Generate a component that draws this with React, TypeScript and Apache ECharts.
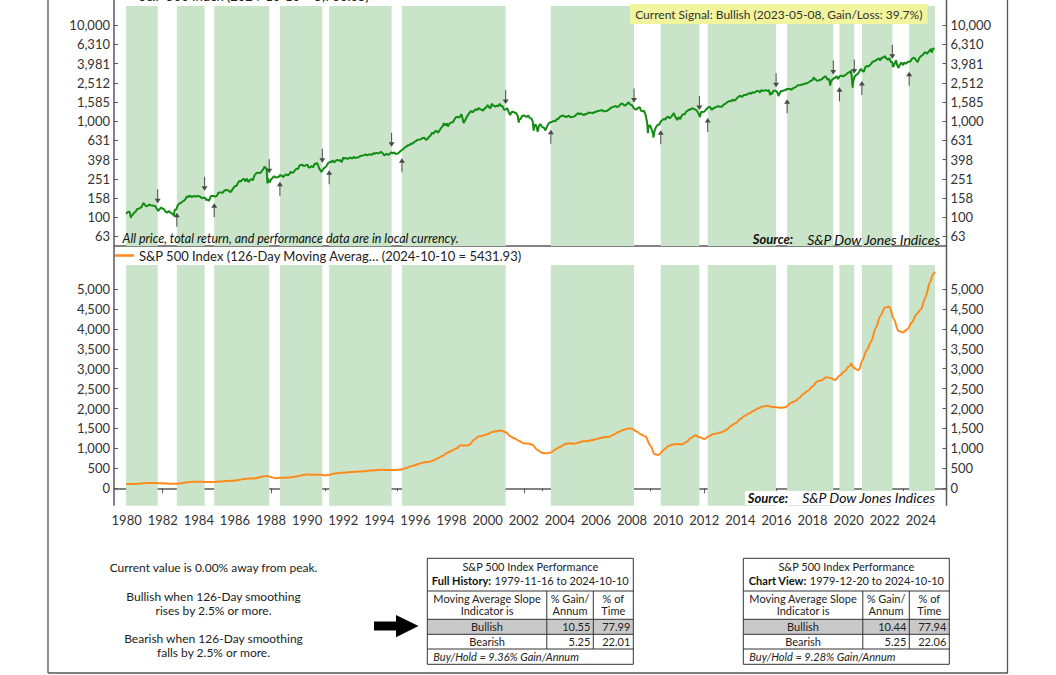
import React, { useEffect, useRef } from "react";
import * as echarts from "echarts";

// ---------------- DATA ----------------
const priceName = "S&P 500 Index (2024-10-10 = 5,780.05)";
const maName = "S&P 500 Index (126-Day Moving Averag\u2026 (2024-10-10 = 5431.93)";

// S&P 500 month-end closes, one row per year
const spx1980s = [
  114.16, 113.66, 102.09, 106.29, 111.24, 114.24, 121.67, 122.38, 125.46, 127.47, 140.52, 135.76,
  129.55, 131.27, 136.0, 132.81, 132.59, 131.21, 130.92, 122.79, 116.18, 121.89, 126.35, 122.55,
  120.4, 113.11, 111.96, 116.44, 111.88, 109.61, 107.09, 119.51, 120.42, 133.71, 138.54, 140.64,
  145.3, 148.06, 152.96, 164.42, 162.39, 168.11, 162.56, 164.4, 166.07, 163.55, 166.4, 164.93,
  163.41, 157.06, 159.18, 160.05, 150.55, 153.18, 150.66, 166.68, 166.1, 166.09, 163.58, 167.24,
  179.63, 181.18, 180.66, 179.83, 189.55, 191.85, 190.92, 188.63, 182.08, 189.82, 202.17, 211.28,
  211.78, 226.92, 238.9, 235.52, 247.35, 250.84, 236.12, 252.93, 231.32, 243.98, 249.22, 242.17,
  274.08, 284.2, 291.7, 288.36, 290.1, 304.0, 318.66, 329.8, 321.83, 251.79, 230.3, 247.08,
  257.07, 267.82, 258.89, 261.33, 262.16, 273.5, 272.02, 261.52, 271.91, 278.97, 273.7, 277.72,
  297.47, 288.86, 294.87, 309.64, 320.52, 317.98, 346.08, 351.45, 349.15, 340.36, 345.99, 353.4,
];
const spx1990s = [
  329.08, 331.89, 339.94, 330.8, 361.23, 358.02, 356.15, 322.56, 306.05, 304.0, 322.22, 330.22,
  343.93, 367.07, 375.22, 375.34, 389.83, 371.16, 387.81, 395.43, 387.86, 392.46, 375.22, 417.09,
  408.79, 412.7, 403.69, 414.95, 415.35, 408.14, 424.21, 414.03, 417.8, 418.68, 431.35, 435.71,
  438.78, 443.38, 451.67, 440.19, 450.19, 450.53, 448.13, 463.56, 458.93, 467.83, 461.79, 466.45,
  481.61, 467.14, 445.77, 450.91, 456.5, 444.27, 458.26, 475.49, 462.69, 472.35, 453.69, 459.27,
  470.42, 487.39, 500.71, 514.71, 533.4, 544.75, 562.06, 561.88, 584.41, 581.5, 605.37, 615.93,
  636.02, 640.43, 645.5, 654.17, 669.12, 670.63, 639.95, 651.99, 687.31, 705.27, 757.02, 740.74,
  786.16, 790.82, 757.12, 801.34, 848.28, 885.14, 954.29, 899.47, 947.28, 914.62, 955.4, 970.43,
  980.28, 1049.34, 1101.75, 1111.75, 1090.82, 1133.84, 1120.67, 957.28, 1017.01, 1098.67, 1163.63, 1229.23,
  1279.64, 1238.33, 1286.37, 1335.18, 1301.84, 1372.71, 1328.72, 1320.41, 1282.71, 1362.93, 1388.91, 1469.25,
];
const spx2000s = [
  1394.46, 1366.42, 1498.58, 1452.43, 1420.6, 1454.6, 1430.83, 1517.68, 1436.51, 1429.4, 1315.23, 1320.28,
  1366.01, 1239.94, 1160.33, 1249.46, 1255.82, 1224.42, 1211.23, 1133.58, 1040.94, 1059.78, 1139.45, 1148.08,
  1130.2, 1106.73, 1147.39, 1076.92, 1067.14, 989.82, 911.62, 916.07, 815.28, 885.76, 936.31, 879.82,
  855.7, 841.15, 848.18, 916.92, 963.59, 974.5, 990.31, 1008.01, 995.97, 1050.71, 1058.2, 1111.92,
  1131.13, 1144.94, 1126.21, 1107.3, 1120.68, 1140.84, 1101.72, 1104.24, 1114.58, 1130.2, 1173.82, 1211.92,
  1181.27, 1203.6, 1180.59, 1156.85, 1191.5, 1191.33, 1234.18, 1220.33, 1228.81, 1207.01, 1249.48, 1248.29,
  1280.08, 1280.66, 1294.83, 1310.61, 1270.09, 1270.2, 1276.66, 1303.82, 1335.85, 1377.94, 1400.63, 1418.3,
  1438.24, 1406.82, 1420.86, 1482.37, 1530.62, 1503.35, 1455.27, 1473.99, 1526.75, 1549.38, 1481.14, 1468.36,
  1378.55, 1330.63, 1322.7, 1385.59, 1400.38, 1280.0, 1267.38, 1282.83, 1166.36, 968.75, 896.24, 903.25,
  825.88, 735.09, 797.87, 872.81, 919.14, 919.32, 987.48, 1020.62, 1057.08, 1036.19, 1095.63, 1115.1,
];
const spx2010s = [
  1073.87, 1104.49, 1169.43, 1186.69, 1089.41, 1030.71, 1101.6, 1049.33, 1141.2, 1183.26, 1180.55, 1257.64,
  1286.12, 1327.22, 1325.83, 1363.61, 1345.2, 1320.64, 1292.28, 1218.89, 1131.42, 1253.3, 1246.96, 1257.6,
  1312.41, 1365.68, 1408.47, 1397.91, 1310.33, 1362.16, 1379.32, 1406.58, 1440.67, 1412.16, 1416.18, 1426.19,
  1498.11, 1514.68, 1569.19, 1597.57, 1630.74, 1606.28, 1685.73, 1632.97, 1681.55, 1756.54, 1805.81, 1848.36,
  1782.59, 1859.45, 1872.34, 1883.95, 1923.57, 1960.23, 1930.67, 2003.37, 1972.29, 2018.05, 2067.56, 2058.9,
  1994.99, 2104.5, 2067.89, 2085.51, 2107.39, 2063.11, 2103.84, 1972.18, 1920.03, 2079.36, 2080.41, 2043.94,
  1940.24, 1932.23, 2059.74, 2065.3, 2096.95, 2098.86, 2173.6, 2170.95, 2168.27, 2126.15, 2198.81, 2238.83,
  2278.87, 2363.64, 2362.72, 2384.2, 2411.8, 2423.41, 2470.3, 2471.65, 2519.36, 2575.26, 2647.58, 2673.61,
  2823.81, 2713.83, 2640.87, 2648.05, 2705.27, 2718.37, 2816.29, 2901.52, 2913.98, 2711.74, 2760.17, 2506.85,
  2704.1, 2784.49, 2834.4, 2945.83, 2752.06, 2941.76, 2980.38, 2926.46, 2976.74, 3037.56, 3140.98, 3230.78,
];
const spx2020s = [
  3225.52, 2954.22, 2584.59, 2912.43, 3044.31, 3100.29, 3271.12, 3500.31, 3363.0, 3269.96, 3621.63, 3756.07,
  3714.24, 3811.15, 3972.89, 4181.17, 4204.11, 4297.5, 4395.26, 4522.68, 4307.54, 4605.38, 4567.0, 4766.18,
  4515.55, 4373.94, 4530.41, 4131.93, 4132.15, 3785.38, 4130.29, 3955.0, 3585.62, 3871.98, 4080.11, 3839.5,
  4076.6, 3970.15, 4109.31, 4169.48, 4179.83, 4450.38, 4588.96, 4507.66, 4288.05, 4193.8, 4567.8, 4769.83,
  4845.65, 5096.27, 5254.35, 5035.69, 5277.51, 5460.48, 5522.3, 5648.4, 5762.48,
];
// first and last points of the view, [decimal year, close]
const priceFirst: [number, number] = [1979.97, 108.3];
const priceLast: [number, number] = [2024.78, 5780.05];
// intra-month highs and lows, [decimal year, close]
const priceExtremes: [number, number][] = [
  [1980.24, 98.2], [1982.61, 102.4], [1984.55, 147.8], [1987.64, 336.8], [1987.8, 224.8],
  [1990.54, 368.9], [1990.78, 295.5], [1994.3, 438.9], [1997.82, 877.0], [1998.54, 1186.8],
  [2000.23, 1527.5], [2001.72, 965.8], [2002.55, 797.7], [2002.77, 776.8], [2003.19, 800.7],
  [2007.77, 1565.2], [2008.88, 752.4], [2009.18, 676.5], [2010.32, 1217.3], [2010.5, 1022.6],
  [2011.33, 1363.6], [2011.75, 1099.2], [2015.65, 1867.6], [2016.11, 1829.1], [2018.07, 2872.9],
  [2018.72, 2930.8], [2018.98, 2351.1], [2020.13, 3386.2], [2020.22, 2237.4], [2022.005, 4796.6],
  [2022.45, 3666.8], [2022.62, 4305.2], [2022.78, 3577.0], [2023.82, 4117.4], [2024.54, 5667.2],
  [2024.6, 5186.3],
];

// 126-day moving average, [decimal year, value]
const movingAverage: [number, number][] = [
  [1979.97, 105.5], [1980.25, 107.7], [1980.5, 110.3], [1980.75, 116.9], [1981.0, 128.9],
  [1981.25, 133.5], [1981.5, 132.3], [1981.75, 127.8], [1982.0, 123.5], [1982.25, 119.4],
  [1982.5, 113.9], [1982.75, 114.2], [1983.0, 126.6], [1983.25, 143.2], [1983.5, 156.9],
  [1983.75, 164.7], [1984.0, 164.7], [1984.25, 162.4], [1984.5, 157.3], [1984.75, 157.9],
  [1985.0, 163.4], [1985.25, 173.1], [1985.5, 183.8], [1985.75, 187.2], [1986.0, 194.2],
  [1986.25, 213.5], [1986.5, 235.2], [1986.75, 242.3], [1987.0, 242.6], [1987.25, 264.2],
  [1987.5, 288.8], [1987.75, 308.8], [1987.83, 302.7], [1988.0, 283.3], [1988.25, 252.2],
  [1988.5, 263.5], [1988.75, 267.1], [1989.0, 272.6], [1989.25, 285.3], [1989.5, 304.9],
  [1989.75, 332.5], [1990.0, 347.8], [1990.25, 340.1], [1990.5, 341.8], [1990.75, 339.2],
  [1991.0, 323.6], [1991.25, 340.4], [1991.5, 370.4], [1991.75, 384.6], [1992.0, 392.7],
  [1992.25, 401.7], [1992.5, 410.6], [1992.75, 415.8], [1993.0, 423.6], [1993.25, 436.6],
  [1993.5, 445.8], [1993.75, 451.9], [1994.0, 461.1], [1994.25, 465.1], [1994.5, 457.7],
  [1994.75, 458.0], [1995.0, 463.7], [1995.25, 474.0], [1995.5, 508.6], [1995.75, 550.2],
  [1996.0, 585.2], [1996.25, 620.8], [1996.5, 652.6], [1996.75, 662.2], [1997.0, 697.1],
  [1997.25, 756.2], [1997.5, 811.5], [1997.75, 889.3], [1998.0, 940.3], [1998.25, 995.3],
  [1998.5, 1078.0], [1998.75, 1071.9], [1998.83, 1069.7], [1999.0, 1097.8], [1999.25, 1216.0],
  [1999.5, 1302.3], [1999.75, 1323.6], [2000.0, 1358.8], [2000.25, 1413.4], [2000.5, 1431.2],
  [2000.75, 1452.1], [2001.0, 1408.3], [2001.25, 1305.2], [2001.5, 1249.3], [2001.75, 1185.9],
  [2002.0, 1122.2], [2002.25, 1122.0], [2002.5, 1086.4], [2002.75, 962.8], [2003.0, 890.8],
  [2003.25, 874.5], [2003.5, 900.0], [2003.75, 974.9], [2004.0, 1035.9], [2004.25, 1103.8],
  [2004.5, 1128.5], [2004.75, 1114.9], [2005.0, 1139.4], [2005.25, 1180.2], [2005.5, 1184.2],
  [2005.75, 1203.8], [2006.0, 1231.4], [2006.25, 1260.1], [2006.5, 1284.4], [2006.75, 1294.6],
  [2007.0, 1352.2], [2007.25, 1410.5], [2007.5, 1463.7], [2007.75, 1495.4], [2007.92, 1498.3],
  [2008.0, 1492.5], [2008.25, 1421.8], [2008.5, 1349.7], [2008.75, 1297.1], [2009.0, 1080.8],
  [2009.25, 854.5], [2009.42, 842.4], [2009.5, 845.0], [2009.75, 962.7], [2010.0, 1052.0],
  [2010.25, 1099.1], [2010.5, 1109.1], [2010.75, 1099.8], [2011.0, 1152.3], [2011.25, 1260.1],
  [2011.5, 1328.1], [2011.75, 1278.7], [2012.0, 1233.4], [2012.25, 1307.4], [2012.5, 1359.5],
  [2012.75, 1382.8], [2013.0, 1413.5], [2013.25, 1472.8], [2013.5, 1569.4], [2013.75, 1639.2],
  [2014.0, 1735.2], [2014.25, 1820.9], [2014.5, 1880.4], [2014.75, 1945.7], [2015.0, 2008.5],
  [2015.25, 2052.0], [2015.5, 2070.6], [2015.75, 2042.0], [2016.0, 2033.3], [2016.25, 2022.6],
  [2016.5, 2032.2], [2016.75, 2129.0], [2017.0, 2179.5], [2017.25, 2261.5], [2017.5, 2370.8],
  [2017.75, 2446.8], [2018.0, 2559.7], [2018.25, 2679.2], [2018.5, 2708.4], [2018.75, 2783.9],
  [2019.0, 2768.4], [2019.25, 2717.0], [2019.5, 2827.1], [2019.75, 2920.6], [2020.0, 3048.8],
  [2020.15, 3130.0], [2020.25, 3029.0], [2020.5, 2970.2], [2020.58, 2977.8], [2020.75, 3198.6],
  [2021.0, 3463.7], [2021.25, 3691.0], [2021.5, 4030.2], [2021.75, 4318.0], [2022.0, 4527.4],
  [2022.25, 4559.8], [2022.5, 4244.9], [2022.75, 3953.4], [2023.0, 3910.4], [2023.25, 3991.3],
  [2023.5, 4159.3], [2023.75, 4364.1], [2024.0, 4486.0], [2024.25, 4788.0], [2024.5, 5161.7],
  [2024.67, 5366.5], [2024.78, 5431.93],
];

// Bullish periods (shaded), [start, end] in decimal years
const bullishPeriods: [number, number][] = [
  [1979.97, 1981.72], [1982.78, 1984.32], [1984.85, 1987.9], [1988.49, 1990.84],
  [1991.22, 1994.68], [1995.25, 2001.0], [2003.5, 2008.11], [2009.59, 2011.73],
  [2012.19, 2015.98], [2016.59, 2019.15], [2019.49, 2020.31], [2020.73, 2022.42],
  [2023.35, 2024.78],
];
// Signal arrows, [decimal year, price at arrow tip]
const sellSignals: [number, number][] = [
  [1981.72, 140], [1984.32, 189], [1987.9, 287], [1990.84, 370], [1994.68, 542],
  [2001.0, 1510], [2008.11, 1563], [2011.73, 1309], [2015.98, 2260], [2019.15, 3065],
  [2020.31, 3140], [2022.42, 4467],
];
const buySignals: [number, number][] = [
  [1982.78, 111], [1984.85, 140], [1988.49, 234], [1991.22, 309], [1995.25, 411],
  [2003.5, 817], [2009.59, 804], [2012.19, 1080], [2016.59, 1698], [2019.49, 2260],
  [2020.73, 2624], [2023.35, 3273],
];

// Tick labels
const logTickValues = [63, 100, 158, 251, 398, 631, 1000, 1585, 2512, 3981, 6310, 10000];
const logTickLabels = ["63", "100", "158", "251", "398", "631", "1,000", "1,585", "2,512", "3,981", "6,310", "10,000"];
const linTickValues = [0, 500, 1000, 1500, 2000, 2500, 3000, 3500, 4000, 4500, 5000];
const linTickLabels = ["0", "500", "1,000", "1,500", "2,000", "2,500", "3,000", "3,500", "4,000", "4,500", "5,000"];
const yearTickLabels = [
  "1980", "1982", "1984", "1986", "1988", "1990", "1992", "1994", "1996", "1998", "2000", "2002",
  "2004", "2006", "2008", "2010", "2012", "2014", "2016", "2018", "2020", "2022", "2024",
];

// Texts
const signalText = "Current Signal: Bullish (2023-05-08, Gain/Loss: 39.7%)";
const noteText = "All price, total return, and performance data are in local currency.";
const sideNotes = [
  "Current value is 0.00% away from peak.",
  "Bullish when 126-Day smoothing",
  "rises by 2.5% or more.",
  "Bearish when 126-Day smoothing",
  "falls by 2.5% or more.",
];
const fullHistoryRows = [
  ["Bullish", "10.55", "77.99"],
  ["Bearish", "5.25", "22.01"],
];
const chartViewRows = [
  ["Bullish", "10.44", "77.94"],
  ["Bearish", "5.25", "22.06"],
];

// ---------------- BUILD ----------------
const FONT = "Lato";
const GREEN = "#138c13";
const ORANGE = "#ff8a1c";
const BAND = "#c9e4c9";
const AXIS = "#5a5a5a";
const TF = 11; // table font size

function buildPriceSeries(): [number, number][] {
  const monthly = [...spx1980s, ...spx1990s, ...spx2000s, ...spx2010s, ...spx2020s];
  const pts: [number, number][] = monthly.map((v, i) => [1980 + (i + 1) / 12, v]);
  const all = [priceFirst, ...pts, ...priceExtremes, priceLast].sort((a, b) => a[0] - b[0]);
  return all.map(([x, v]) => [x, Math.log10(v)]);
}

const bandMarks = bullishPeriods.map(([a, b]) => [{ xAxis: a }, { xAxis: b }]);

const DOWN_ARROW = "path://M2.5,0 L3.5,0 L3.5,9.5 L6,9.5 L3,14 L0,9.5 L2.5,9.5 Z";
const UP_ARROW = "path://M3,0 L6,4.5 L3.5,4.5 L3.5,14 L2.5,14 L2.5,4.5 L0,4.5 Z";

function txt(x: number, y: number, text: string, extra: any = {}) {
  return {
    type: "text",
    x,
    y,
    z: 100,
    silent: true,
    style: {
      text,
      fontFamily: FONT,
      fontSize: TF,
      fill: "#222",
      align: "center",
      verticalAlign: "middle",
      ...extra,
    },
  };
}
function hline(x1: number, x2: number, y: number, stroke = "#333", w = 1) {
  return { type: "line", z: 100, silent: true, shape: { x1, y1: y, x2, y2: y }, style: { stroke, lineWidth: w } };
}
function vline(x: number, y1: number, y2: number, stroke = "#333", w = 1) {
  return { type: "line", z: 100, silent: true, shape: { x1: x, y1, x2: x, y2 }, style: { stroke, lineWidth: w } };
}

function sourceText(xRight: number, y: number) {
  return {
    type: "text", x: xRight, y, z: 101, silent: true,
    style: {
      text: "{b|Source:}{n|    S&P Dow Jones Indices}", align: "right", verticalAlign: "middle",
      rich: {
        b: { fontFamily: FONT, fontSize: 13, fontStyle: "italic", fontWeight: "bold", fill: "#111" },
        n: { fontFamily: FONT, fontSize: 14, fontStyle: "italic", fill: "#111" },
      },
    },
  };
}

function tableGraphics(x0: number, label: string, range: string, rows: string[][], buyHold: string) {
  const w = 206, c1 = 119.5, c2 = 166;
  const yTop = 558.3, yH = 591, yB = 619.3, yR = 634.3, yF = 649, yBot = 664.3;
  const els: any[] = [];
  els.push({ type: "rect", z: 99, silent: true, shape: { x: x0, y: yB, width: w, height: yR - yB }, style: { fill: "#c9c9c9" } });
  els.push({ type: "rect", z: 100, silent: true, shape: { x: x0, y: yTop, width: w, height: yBot - yTop }, style: { fill: "none", stroke: "#333", lineWidth: 1 } });
  els.push(hline(x0, x0 + w, yH));
  els.push(hline(x0, x0 + w, yB));
  els.push(hline(x0, x0 + w, yR));
  els.push(hline(x0, x0 + w, yF));
  els.push(vline(x0 + c1, yH, yF));
  els.push(vline(x0 + c2, yH, yF));
  const cx = x0 + w / 2;
  els.push(txt(cx, 566.7, "S&P 500 Index Performance"));
  els.push({
    type: "text", x: cx, y: 580.7, z: 100, silent: true,
    style: {
      text: `{b|${label}} {n|${range}}`, align: "center", verticalAlign: "middle",
      rich: {
        b: { fontFamily: FONT, fontSize: TF, fontWeight: "bold", fill: "#111" },
        n: { fontFamily: FONT, fontSize: TF, fill: "#222" },
      },
    },
  });
  els.push(txt(x0 + c1 / 2, 598.6, "Moving Average Slope"));
  els.push(txt(x0 + c1 / 2, 610.6, "Indicator is"));
  els.push(txt(x0 + (c1 + c2) / 2, 598.6, "% Gain/"));
  els.push(txt(x0 + (c1 + c2) / 2, 610.6, "Annum"));
  els.push(txt(x0 + (c2 + w) / 2, 598.6, "% of"));
  els.push(txt(x0 + (c2 + w) / 2, 610.6, "Time"));
  const rowY = [626.8, 641.7];
  rows.forEach((r, i) => {
    els.push(txt(x0 + c1 / 2, rowY[i], r[0]));
    els.push(txt(x0 + c2 - 3, rowY[i], r[1], { align: "right" }));
    els.push(txt(x0 + w - 3, rowY[i], r[2], { align: "right" }));
  });
  els.push(txt(x0 + 6, 656.7, buyHold, { align: "left", fontStyle: "italic" }));
  return els;
}

const XMIN = 1979.3;
const XMAX = 2025.42;
const evenYears = yearTickLabels.map((s) => Number(s));
const allYears: number[] = [];
for (let y = 1980; y <= 2024; y++) allYears.push(y);

const axisLabelStyle = { fontFamily: FONT, fontSize: 13, color: "#333" };

function makeOption(): any {
  const priceData = buildPriceSeries();
  const logTicks = logTickValues.map((v) => Math.log10(v));
  const logFormatter = (v: number) => {
    const i = logTicks.findIndex((t) => Math.abs(t - v) < 1e-6);
    return i >= 0 ? logTickLabels[i] : "";
  };
  const linFormatter = (v: number) => {
    const i = linTickValues.indexOf(v);
    return i >= 0 ? linTickLabels[i] : "";
  };
  const yLog = (position: string) => ({
    type: "value", gridIndex: 0, position, min: 1.7, max: 4.2,
    axisLine: { show: false }, splitLine: { show: false },
    axisTick: { show: true, inside: true, length: 4, customValues: logTicks, lineStyle: { color: AXIS } },
    axisLabel: { ...axisLabelStyle, margin: 4, customValues: logTicks, formatter: logFormatter },
  });
  const yLin = (position: string) => ({
    type: "value", gridIndex: 1, position, min: -437, max: 5602,
    axisLine: { show: false }, splitLine: { show: false },
    axisTick: { show: true, inside: true, length: 4, customValues: linTickValues, lineStyle: { color: AXIS } },
    axisLabel: { ...axisLabelStyle, margin: 4, customValues: linTickValues, formatter: linFormatter },
  });

  const graphic: any[] = [
    // frame
    vline(48, 0, 673, "#555", 1.3),
    vline(1007.5, 0, 673, "#555", 1.3),
    hline(48, 1008, 673, "#555", 1.3),
    // panel axis lines
    vline(114, 0, 505.7, AXIS, 1.5),
    vline(946.5, 0, 505.7, AXIS, 1.5),
    // current signal box
    { type: "rect", z: 99, silent: true, shape: { x: 630, y: 4, width: 297.5, height: 20 }, style: { fill: "#f1f59e" } },
    txt(778.8, 14.5, signalText, { fontSize: 12, fill: "#333" }),
    // notes
    txt(122.5, 238.8, noteText, { align: "left", fontStyle: "italic", fontSize: 12.5, fill: "#111" }),
    sourceText(940, 239),
    { type: "rect", z: 99, silent: true, shape: { x: 745, y: 491, width: 195, height: 14 }, style: { fill: "#fff" } },
    sourceText(935, 497.5),
    // side notes
    txt(213.5, 567.7, sideNotes[0], { fontSize: 12 }),
    txt(213.5, 596, sideNotes[1], { fontSize: 12 }),
    txt(213.5, 610.3, sideNotes[2], { fontSize: 12 }),
    txt(213.5, 638.3, sideNotes[3], { fontSize: 12 }),
    txt(213.5, 652.7, sideNotes[4], { fontSize: 12 }),
    // big arrow
    {
      type: "polygon", z: 100, silent: true,
      shape: { points: [[374, 621.5], [396, 621.5], [396, 615], [418.5, 626], [396, 637.3], [396, 630.5], [374, 630.5]] },
      style: { fill: "#000" },
    },
    ...tableGraphics(427.3, "Full History:", "1979-11-16 to 2024-10-10", fullHistoryRows, "Buy/Hold = 9.36% Gain/Annum"),
    ...tableGraphics(743.3, "Chart View:", "1979-12-20 to 2024-10-10", chartViewRows, "Buy/Hold = 9.28% Gain/Annum"),
  ];

  const legendBase = {
    icon: "rect", itemWidth: 19, itemHeight: 2.5, selectedMode: false, padding: 0, left: 115,
    textStyle: { fontFamily: FONT, fontSize: 13, color: "#222" },
  };

  return {
    animation: false,
    backgroundColor: "#fff",
    textStyle: { fontFamily: FONT },
    legend: [
      { ...legendBase, data: [priceName], top: -11 },
      { ...legendBase, data: [maName], top: 249 },
    ],
    grid: [
      { left: 114, right: 109.5, top: 6, height: 240 },
      { left: 114, right: 109.5, top: 265, height: 240.7 },
    ],
    xAxis: [
      {
        type: "value", gridIndex: 0, position: "bottom", min: XMIN, max: XMAX,
        axisLine: { show: true, lineStyle: { color: AXIS, width: 1.5 } },
        axisTick: { show: false }, axisLabel: { show: false }, splitLine: { show: false },
      },
      {
        type: "value", gridIndex: 1, position: "bottom", min: XMIN, max: XMAX,
        axisLine: { show: true, lineStyle: { color: AXIS, width: 1.5 } },
        axisTick: { show: true, length: 5, customValues: evenYears, lineStyle: { color: AXIS } },
        axisLabel: { ...axisLabelStyle, margin: 8, customValues: evenYears, formatter: (v: number) => String(v) },
        splitLine: { show: false },
      },
      {
        type: "value", gridIndex: 1, position: "bottom", min: XMIN, max: XMAX,
        axisLine: { show: false },
        axisTick: { show: true, length: 3, customValues: allYears, lineStyle: { color: AXIS } },
        axisLabel: { show: false }, splitLine: { show: false },
      },
    ],
    yAxis: [yLog("left"), yLog("right"), yLin("left"), yLin("right")],
    graphic,
    series: [
      {
        name: priceName, type: "line", xAxisIndex: 0, yAxisIndex: 0, data: priceData,
        showSymbol: false, silent: true, z: 3,
        lineStyle: { color: GREEN, width: 2 }, itemStyle: { color: GREEN },
        markArea: { silent: true, itemStyle: { color: BAND }, label: { show: false }, data: bandMarks },
      },
      {
        name: "Sell", type: "scatter", xAxisIndex: 0, yAxisIndex: 0, silent: true, z: 4,
        data: sellSignals.map(([x, v]) => [x, Math.log10(v)]),
        symbol: DOWN_ARROW, symbolSize: [6, 14], symbolOffset: [0, -7], itemStyle: { color: "#222" },
      },
      {
        name: "Buy", type: "scatter", xAxisIndex: 0, yAxisIndex: 0, silent: true, z: 4,
        data: buySignals.map(([x, v]) => [x, Math.log10(v)]),
        symbol: UP_ARROW, symbolSize: [6, 14], symbolOffset: [0, 7], itemStyle: { color: "#222" },
      },
      {
        name: maName, type: "line", xAxisIndex: 1, yAxisIndex: 2, data: movingAverage,
        showSymbol: false, silent: true, z: 3, smooth: 0.3, smoothMonotone: "x",
        lineStyle: { color: ORANGE, width: 2 }, itemStyle: { color: ORANGE },
        markArea: { silent: true, itemStyle: { color: BAND }, label: { show: false }, data: bandMarks },
      },
    ],
  };
}

export default function App() {
  const ref = useRef<HTMLDivElement>(null);
  useEffect(() => {
    if (!ref.current) return;
    const chart = echarts.init(ref.current, undefined, { renderer: "svg" });
    chart.setOption(makeOption());
    return () => chart.dispose();
  }, []);
  return (
    <div
      ref={ref}
      style={{ position: "fixed", left: 0, top: 0, width: 1056, height: 675, background: "#fff" }}
    />
  );
}
